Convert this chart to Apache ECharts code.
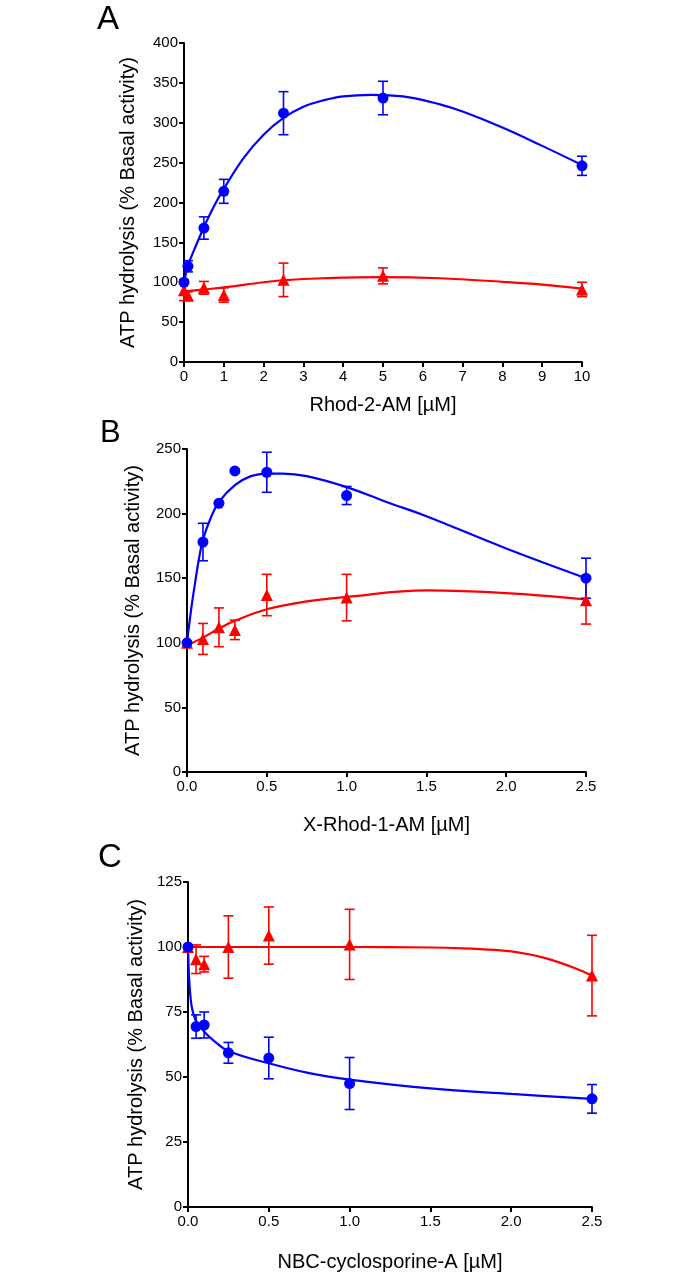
<!DOCTYPE html>
<html>
<head>
<meta charset="utf-8">
<script src="https://cdn.jsdelivr.net/npm/echarts@6/dist/echarts.min.js"></script>
<style>
html,body{margin:0;padding:0;background:#fff;}
#chart{width:694px;height:1277px;}
</style>
</head>
<body>
<div id="chart"></div>
<script>
// ---------- Panel A: Rhod-2-AM ----------
const aX = [0, 0.1, 0.5, 1, 2.5, 5, 10];
const aBlue = [100, 120, 168, 214, 312, 331, 246];
const aBlueErr = [0, 7, 14, 15, 27, 21, 12];
const aRedX = [0, 0.1, 0.5, 1, 2.5, 5, 10];
const aRed = [90, 83, 93, 84, 103, 108, 91];
const aRedErr = [13, 5, 8, 9, 21, 10, 9];
const aBlueCurveX = [0, 0.1, 0.25, 0.5, 0.75, 1, 1.5, 2, 2.5, 3, 3.5, 4, 4.7, 5.5, 6.43, 7, 8, 9, 10];
const aBlueCurveY = [100, 121, 140, 169, 195, 217, 256, 285, 306, 320, 328, 333, 335, 333, 323, 314, 294, 271, 247];
const aRedCurveX = [0, 0.5, 1, 2, 2.5, 3.5, 5, 6.43, 8, 9, 10];
const aRedCurveY = [88.5, 91, 93.5, 100, 102.5, 105, 106.5, 105, 100.5, 97, 92];

// ---------- Panel B: X-Rhod-1-AM ----------
const bX = [0, 0.1, 0.2, 0.3, 0.5, 1, 2.5];
const bBlue = [100, 178, 208, 233, 232, 214, 150];
const bBlueErr = [0, 14.5, 0, 0, 15.5, 7, 15.5];
const bRed = [100, 103, 112, 110, 137, 135, 133];
const bRedErr = [0, 12, 15, 7.5, 16, 18, 18.5];
const bBlueCurveX = [0, 0.025, 0.05, 0.075, 0.1, 0.15, 0.2, 0.3, 0.4, 0.5, 0.6, 0.75, 1.0, 1.25, 1.5, 2.0, 2.5];
const bBlueCurveY = [100, 125, 146, 165, 180, 197, 209, 222, 229, 231, 231, 229, 220.5, 209, 198, 173, 150];
const bRedCurveX = [0, 0.1, 0.2, 0.3, 0.5, 0.75, 1, 1.5, 2, 2.5];
const bRedCurveY = [98, 104, 111, 117, 126, 132, 135.5, 140.5, 138.5, 133.5];

// ---------- Panel C: NBC-cyclosporine-A ----------
const cX = [0, 0.05, 0.1, 0.25, 0.5, 1, 2.5];
const cBlue = [100, 69.4, 70, 59.3, 57.3, 47.5, 41.6];
const cBlueErr = [0, 4.5, 5, 4, 8, 10, 5.5];
const cRed = [100, 95.3, 93.4, 100, 104.4, 101, 89];
const cRedErr = [0, 5.5, 3, 12, 11, 13.5, 15.5];
const cBlueCurveX = [0, 0.004, 0.008, 0.015, 0.023, 0.035, 0.05, 0.075, 0.1, 0.15, 0.25, 0.5, 0.75, 1.0, 1.5, 2.0, 2.5];
const cBlueCurveY = [100, 92, 87, 81, 77, 74, 71.5, 69.5, 67.5, 64.5, 60, 55.3, 51.5, 49, 45.6, 43.5, 41.6];
const cRedCurveX = [0, 0.5, 1, 1.5, 1.7, 1.9, 2.0, 2.1, 2.2, 2.3, 2.4, 2.5];
const cRedCurveY = [100, 100, 100, 99.8, 99.5, 98.9, 98.3, 97.3, 95.9, 94.0, 91.7, 89];

// ---------- tick / label text ----------
const panelLetters = ['A', 'B', 'C'];
const xTitles = ['Rhod-2-AM [\u00b5M]', 'X-Rhod-1-AM [\u00b5M]', 'NBC-cyclosporine-A [\u00b5M]'];
const yTitle = 'ATP hydrolysis (% Basal activity)';

const BLUE = '#0000ff';
const RED = '#ff0000';
const FONT = '"Liberation Sans", Arial, Helvetica, sans-serif';

function zip(xs, ys) { return xs.map((x, i) => [x, ys[i]]); }
function zip3(xs, ys, es) { return xs.map((x, i) => [x, ys[i], es[i]]); }

function errSeries(idx, xs, ys, es, color) {
  return {
    type: 'custom', xAxisIndex: idx, yAxisIndex: idx, z: 3, clip: false,
    data: zip3(xs, ys, es),
    renderItem: function (params, api) {
      const x = api.value(0), y = api.value(1), e = api.value(2);
      if (!e) return null;
      const t = api.coord([x, y + e]);
      const b = api.coord([x, y - e]);
      const w = 5;
      const st = { stroke: color, lineWidth: 1.6 };
      return {
        type: 'group',
        children: [
          { type: 'line', shape: { x1: t[0], y1: t[1], x2: b[0], y2: b[1] }, style: st },
          { type: 'line', shape: { x1: t[0] - w, y1: t[1], x2: t[0] + w, y2: t[1] }, style: st },
          { type: 'line', shape: { x1: b[0] - w, y1: b[1], x2: b[0] + w, y2: b[1] }, style: st }
        ]
      };
    }
  };
}
function curve(idx, xs, ys, color) {
  return {
    type: 'line', xAxisIndex: idx, yAxisIndex: idx, z: 2, data: zip(xs, ys),
    smooth: 0.4, showSymbol: false, symbol: 'none', clip: false,
    lineStyle: { color: color, width: 2.2 }, silent: true
  };
}
function marks(idx, xs, ys, color, sym, z) {
  return {
    type: 'scatter', xAxisIndex: idx, yAxisIndex: idx, z: z, data: zip(xs, ys), clip: false,
    symbol: sym, symbolSize: sym === 'circle' ? 11 : 12,
    itemStyle: { color: color, opacity: 1 }
  };
}

const grids = [
  { left: 184, right: 112, top: 43, height: 319 },
  { left: 187, right: 108, top: 449, height: 323 },
  { left: 188, right: 102, top: 882, height: 325 }
];
const xMax = [10, 2.5, 2.5];
const xInt = [1, 0.5, 0.5];
const yMax = [400, 250, 125];
const yInt = [50, 50, 25];
const yGap = [46, 44, 37];
const xGap = [33, 43, 45];

const axisLine = { show: true, lineStyle: { color: '#000', width: 2 } };
const axisTick = { show: true, length: 5, lineStyle: { color: '#000', width: 2 } };

const option = {
  backgroundColor: '#fff',
  animation: false,
  title: [
    { text: panelLetters[0], left: 92, top: -2, textStyle: { fontSize: 33, fontWeight: 'normal', color: '#000', fontFamily: FONT } },
    { text: panelLetters[1], left: 95, top: 413, textStyle: { fontSize: 31, fontWeight: 'normal', color: '#000', fontFamily: FONT } },
    { text: panelLetters[2], left: 93, top: 836, textStyle: { fontSize: 33, fontWeight: 'normal', color: '#000', fontFamily: FONT } }
  ],
  grid: grids,
  xAxis: grids.map((g, i) => ({
    type: 'value', gridIndex: i, min: 0, max: xMax[i], interval: xInt[i],
    name: xTitles[i], nameLocation: 'middle', nameGap: xGap[i],
    nameTextStyle: { fontSize: 20, color: '#000', fontFamily: FONT },
    axisLine: axisLine, axisTick: axisTick, splitLine: { show: false },
    axisLabel: { color: '#000', fontSize: 15, margin: 7, fontFamily: FONT,
      formatter: i === 0 ? (v => String(v)) : (v => v.toFixed(1)) }
  })),
  yAxis: grids.map((g, i) => ({
    type: 'value', gridIndex: i, min: 0, max: yMax[i], interval: yInt[i],
    name: yTitle, nameLocation: 'middle', nameGap: yGap[i], nameRotate: 90,
    nameTextStyle: { fontSize: 20, color: '#000', fontFamily: FONT },
    axisLine: axisLine, axisTick: axisTick, splitLine: { show: false },
    axisLabel: { color: '#000', fontSize: 15, margin: 6, fontFamily: FONT }
  })),
  series: [
    curve(0, aRedCurveX, aRedCurveY, RED),
    curve(0, aBlueCurveX, aBlueCurveY, BLUE),
    errSeries(0, aRedX, aRed, aRedErr, RED),
    errSeries(0, aX, aBlue, aBlueErr, BLUE),
    marks(0, aRedX, aRed, RED, 'triangle', 4),
    marks(0, aX, aBlue, BLUE, 'circle', 5),

    curve(1, bRedCurveX, bRedCurveY, RED),
    curve(1, bBlueCurveX, bBlueCurveY, BLUE),
    errSeries(1, bX, bRed, bRedErr, RED),
    errSeries(1, bX, bBlue, bBlueErr, BLUE),
    marks(1, bX, bRed, RED, 'triangle', 4),
    marks(1, bX, bBlue, BLUE, 'circle', 5),

    curve(2, cRedCurveX, cRedCurveY, RED),
    curve(2, cBlueCurveX, cBlueCurveY, BLUE),
    errSeries(2, cX, cRed, cRedErr, RED),
    errSeries(2, cX, cBlue, cBlueErr, BLUE),
    marks(2, cX, cRed, RED, 'triangle', 4),
    marks(2, cX, cBlue, BLUE, 'circle', 5)
  ]
};

const chart = echarts.init(document.getElementById('chart'), null, { renderer: 'canvas' });
chart.setOption(option);
</script>
</body>
</html>
